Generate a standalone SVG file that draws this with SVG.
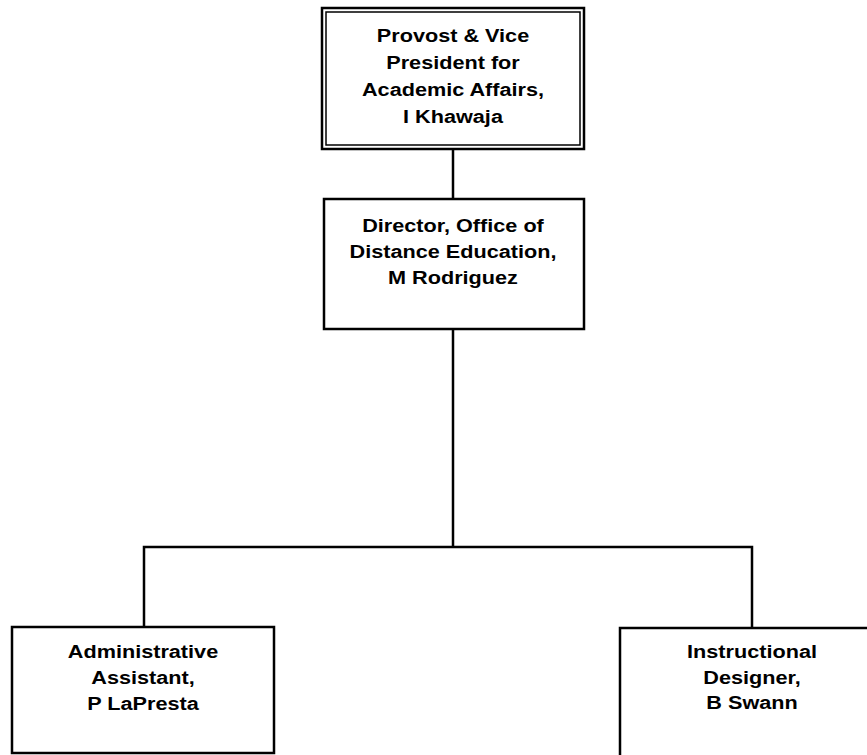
<svg xmlns="http://www.w3.org/2000/svg" width="867" height="755" viewBox="0 0 867 755">
<style>
.box{fill:#fff;stroke:#000;stroke-width:2.5}
.box2{fill:none;stroke:#000;stroke-width:1.5}
.lbl{font-family:"Liberation Sans",Arial,Helvetica,sans-serif;font-weight:bold;font-size:19px;fill:#000;text-anchor:middle}
.con{fill:none;stroke:#000;stroke-width:2.5}
</style>
<rect width="867" height="755" fill="#fff"/>
<g id="connectors">
<line class="con" x1="453" y1="149" x2="453" y2="199"/>
<line class="con" x1="453" y1="329" x2="453" y2="547"/>
<polyline class="con" points="144,627 144,547 752,547 752,628"/>
</g>
<g id="provost">
<rect class="box" x="322" y="8" width="262" height="141"/>
<rect class="box2" x="326" y="12" width="254" height="133"/>
<g transform="translate(453,0) scale(1.14,1)">
<text class="lbl" x="0" y="42">Provost &amp; Vice</text>
<text class="lbl" x="0" y="69">President for</text>
<text class="lbl" x="0" y="96">Academic Affairs,</text>
<text class="lbl" x="0" y="123">I Khawaja</text>
</g>
</g>
<g id="director">
<rect class="box" x="324" y="199" width="260" height="130"/>
<g transform="translate(453,0) scale(1.14,1)">
<text class="lbl" x="0" y="232">Director, Office of</text>
<text class="lbl" x="0" y="258">Distance Education,</text>
<text class="lbl" x="0" y="284">M Rodriguez</text>
</g>
</g>
<g id="admin">
<rect class="box" x="12" y="627" width="262" height="126"/>
<g transform="translate(143,0) scale(1.14,1)">
<text class="lbl" x="0" y="658">Administrative</text>
<text class="lbl" x="0" y="684">Assistant,</text>
<text class="lbl" x="0" y="710">P LaPresta</text>
</g>
</g>
<g id="designer">
<rect class="box" x="620" y="628" width="264" height="140"/>
<g transform="translate(752,0) scale(1.14,1)">
<text class="lbl" x="0" y="658">Instructional</text>
<text class="lbl" x="0" y="684">Designer,</text>
<text class="lbl" x="0" y="709">B Swann</text>
</g>
</g>
</svg>
